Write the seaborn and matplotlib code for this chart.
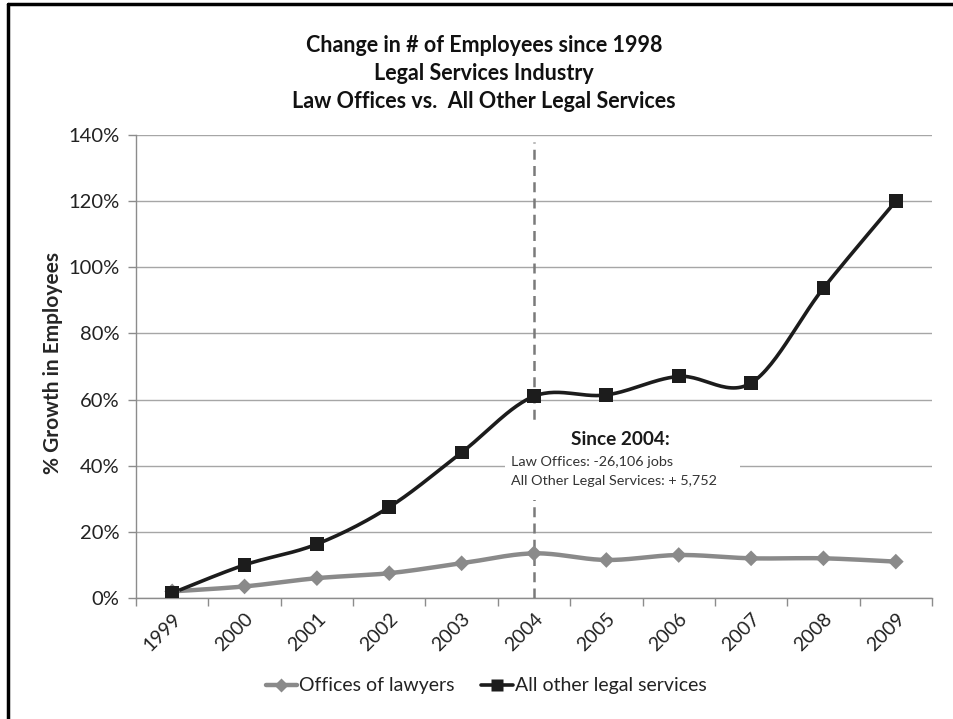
import numpy as np
import pandas as pd
import matplotlib
matplotlib.use("Agg")
import matplotlib.pyplot as plt
import seaborn as sns
from matplotlib.lines import Line2D
from matplotlib.patches import Rectangle

years = ["1999", "2000", "2001", "2002", "2003", "2004", "2005", "2006", "2007", "2008", "2009"]
offices_of_lawyers = [2.0, 3.5, 6.0, 7.5, 10.5, 13.5, 11.5, 13.0, 12.0, 12.0, 11.0]
all_other_legal = [1.5, 10.0, 16.3, 27.5, 44.0, 61.0, 61.4, 67.0, 65.0, 93.7, 120.0]
series_names = ["Offices of lawyers", "All other legal services"]
yticks = [0, 20, 40, 60, 80, 100, 120, 140]
title_lines = ["Change in # of Employees since 1998", "Legal Services Industry",
               "Law Offices vs.  All Other Legal Services"]
note_title = "Since 2004:"
note_lines = ["Law Offices: -26,106 jobs", "All Other Legal Services: + 5,752"]
marker_year = "2004"

sns.set_theme(style="white")
plt.rcParams['font.family'] = ['Lato', 'DejaVu Sans']

df = pd.DataFrame({
    "year": years * 2,
    "x": list(range(len(years))) * 2,
    "value": offices_of_lawyers + all_other_legal,
    "series": [series_names[0]] * len(years) + [series_names[1]] * len(years),
})

fig = plt.figure(figsize=(9.54, 7.19), dpi=100)
ax = fig.add_axes([136/954, 1-598/719, (932-136)/954, (598-135)/719])

colors = {series_names[0]: "#8a8a8a", series_names[1]: "#1c1c1c"}
markers = {series_names[0]: "D", series_names[1]: "s"}
msizes = {series_names[0]: 8, series_names[1]: 10}
lws = {series_names[0]: 3.2, series_names[1]: 2.6}


def smooth(xs, ys, n=30):
    xs = np.asarray(xs, float); ys = np.asarray(ys, float)
    P = np.column_stack([xs, ys])
    P = np.vstack([P[0], P, P[-1]])
    out = []
    for i in range(1, len(P) - 2):
        p0, p1, p2, p3 = P[i-1], P[i], P[i+1], P[i+2]
        c1 = p1 + (p2 - p0) / 6
        c2 = p2 - (p3 - p1) / 6
        t = np.linspace(0, 1, n)[:, None]
        seg = (1-t)**3*p1 + 3*(1-t)**2*t*c1 + 3*(1-t)*t**2*c2 + t**3*p2
        out.append(seg if i == 1 else seg[1:])
    out = np.vstack(out)
    return out[:, 0], out[:, 1]

for name in series_names:
    sub = df[df.series == name]
    sx, sy = smooth(sub.x, sub.value)
    ax.plot(sx, sy, color=colors[name], lw=lws[name], zorder=4, solid_capstyle="round")

sns.scatterplot(data=df, x="x", y="value", hue="series", style="series",
                palette=colors, markers=markers, size="series", sizes={k: v**2 for k, v in msizes.items()},
                edgecolor="none", legend=False, ax=ax, zorder=5)

# dashed vertical line at 2004
xi = years.index(marker_year)
ax.axvline(xi, ymin=0, ymax=(138 - 0) / 140, color="#7a7a7a", lw=1.8, ls=(0, (4, 2.5)), zorder=3)

ax.set_xlim(-0.5, len(years) - 0.5)
ax.set_ylim(0, 140)
ax.set_yticks(yticks)
ax.set_yticklabels([f"{v}%" for v in yticks])
ax.yaxis.grid(True, color="#a6a6a6", lw=1)
ax.set_axisbelow(True)
ax.set_xticks(np.arange(len(years)))
ax.set_xticklabels(years, rotation=45, ha="right", rotation_mode="anchor")
ax.set_xticks(np.arange(-0.5, len(years)), minor=True)
ax.tick_params(axis="x", which="major", length=0, pad=9, labelsize=14, labelcolor="#222222")
ax.tick_params(axis="x", which="minor", length=6, color="#8c8c8c", width=1, direction="out")
ax.tick_params(axis="y", length=6, color="#8c8c8c", width=1, direction="out", pad=6,
               labelsize=14.5, labelcolor="#222222")
ax.xaxis.set_ticks_position("bottom")
ax.yaxis.set_ticks_position("left")
for s in ["top", "right"]:
    ax.spines[s].set_visible(False)
for s in ["left", "bottom"]:
    ax.spines[s].set_color("#8c8c8c")
    ax.spines[s].set_linewidth(1)
ax.set_xlabel("")
ax.set_ylabel("% Growth in Employees", fontsize=15, fontweight="bold")
ax.yaxis.set_label_coords(-0.092, 0.508)

# annotation box
ax.add_patch(Rectangle((4.6, 29.6), 3.25, 24.2, facecolor="white", edgecolor="none", zorder=3.5))
ax.text(6.19, 47.8, note_title, ha="center", va="center", fontsize=13.7, fontweight="bold",
        color="#1a1a1a", zorder=6)
ax.text(4.68, 41.1, note_lines[0], ha="left", va="center", fontsize=10.4, color="#333333", zorder=6)
ax.text(4.68, 35.4, note_lines[1], ha="left", va="center", fontsize=10.4, color="#333333", zorder=6)

# title
for i, line in enumerate(title_lines):
    fig.text(484/954, 1 - (45 + 28*i)/719, line, ha="center", va="center",
             fontsize=15.5, fontweight="bold", color="#111111")

# legend
handles = [Line2D([0], [0], color=colors[n], lw=lws[n], marker=markers[n], markersize=msizes[n]*0.85,
                  markeredgecolor="none") for n in series_names]
fig.legend(handles, series_names, loc="center", bbox_to_anchor=(486/954, 1 - 686/719), ncol=2,
           frameon=False, fontsize=14, handlelength=1.6, handletextpad=0.1, columnspacing=1.4,
           labelcolor="#222222")

# figure border (left and top)
fig.add_artist(Line2D([8/954, 8/954], [0, 1 - 4/719], transform=fig.transFigure, color="black", lw=2.5))
fig.add_artist(Line2D([8/954, 1], [1 - 4/719, 1 - 4/719], transform=fig.transFigure, color="black", lw=2.5))

fig.savefig("out.png", dpi=100, facecolor="white")
